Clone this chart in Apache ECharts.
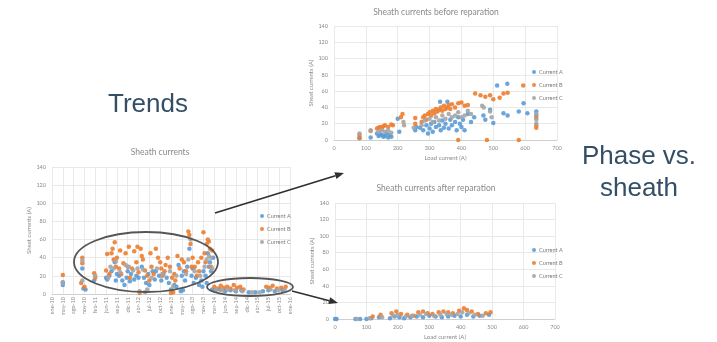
<!DOCTYPE html>
<html><head><meta charset="utf-8">
<style>html,body{margin:0;padding:0;background:#fff}#c{width:717px;height:342px}</style>
<script src="https://cdn.jsdelivr.net/npm/echarts@6/dist/echarts.min.js"></script>
</head><body><div id="c"></div>
<script>
// ---- data ----
const seriesNames = ['Current A', 'Current B', 'Current C'];
const trendLabels = ['ene-10','may-10','ago-10','nov-10','feb-11','jun-11','sep-11','dic-11','abr-12','jul-12','oct-12','ene-13','may-13','ago-13','nov-13','mar-14','jun-14','sep-14','dic-14','abr-15','jul-15','oct-15','ene-16'];
// x = position on the date axis, counted in tick-label steps from ene-10
const trendA = [[1.0,10],[1.0,13],[2.8,28],[2.9,6],[3.1,5],[3.9,15],[5.0,18],[5.1,16],[5.3,20],[5.5,25],[5.8,35],[5.9,15],[6.0,22],[6.2,20],[6.5,15],[6.7,10],[6.9,18],[7.0,25],[7.2,14],[7.3,22],[7.6,16],[7.8,20],[8.0,18],[8.3,30],[8.5,18],[8.7,12],[8.9,22],[9.0,10],[9.3,25],[9.5,16],[9.6,25],[9.9,20],[10.1,15],[10.3,22],[10.6,18],[10.8,12],[11.0,5],[11.3,10],[11.5,8],[11.7,32],[11.9,3],[12.0,20],[12.1,4],[12.2,25],[12.3,15],[12.5,30],[12.7,50],[12.9,20],[13.0,28],[13.1,12],[13.3,18],[13.6,10],[13.8,15],[13.9,8],[14.0,25],[14.2,20],[14.3,12],[14.4,45],[14.5,30],[14.6,35],[14.7,25],[14.8,5],[14.9,40],[15.1,4],[15.5,5],[16.0,3],[16.5,4],[17.0,3],[17.5,4],[18.2,2],[18.8,2],[19.5,3],[20.0,4],[20.6,3],[21.3,4]];
const trendB = [[1.0,21],[2.8,40],[2.8,34],[2.7,12],[3.0,8],[3.9,23],[4.0,18],[5.0,26],[5.1,44],[5.3,22],[5.5,45],[5.6,50],[5.8,57],[5.7,38],[5.9,30],[6.0,40],[6.2,28],[6.3,48],[6.4,22],[6.6,34],[6.8,45],[7.0,30],[7.1,52],[7.2,18],[7.4,28],[7.6,47],[7.8,35],[7.9,52],[8.0,24],[8.1,1],[8.2,50],[8.3,42],[8.4,38],[8.6,26],[8.8,20],[9.0,15],[9.1,45],[9.2,30],[9.4,22],[9.6,50],[9.8,40],[10.0,35],[10.1,28],[10.2,20],[10.4,25],[10.5,32],[10.7,40],[10.9,30],[11.0,1],[11.2,2],[11.1,18],[11.3,22],[11.4,15],[11.6,42],[11.8,28],[12.0,38],[12.2,35],[12.4,25],[12.6,69],[12.7,65],[12.8,55],[12.9,30],[13.0,40],[13.2,30],[13.4,20],[13.5,35],[13.6,25],[13.8,40],[14.0,68],[14.1,45],[14.2,35],[14.3,55],[14.4,60],[14.5,58],[14.6,50],[14.7,30],[14.8,48],[15.0,8],[15.3,6],[15.6,9],[15.9,7],[16.2,8],[16.5,6],[16.8,10],[17.1,7],[17.4,8],[17.7,5],[19.8,8],[20.1,7],[20.4,9],[20.8,6],[21.2,7],[21.6,8]];
const trendC = [[1.0,12],[2.8,15],[2.8,37],[4.0,20],[5.2,18],[5.4,30],[5.7,28],[5.9,36],[6.3,24],[6.8,32],[7.1,30],[7.5,26],[7.9,28],[8.1,3],[8.4,27],[8.6,2],[8.8,5],[9.2,18],[9.7,28],[10.2,22],[10.9,25],[11.2,8],[11.5,20],[12.4,22],[12.6,38],[12.8,60],[13.2,25],[13.7,20],[14.1,30],[14.3,38],[14.5,42],[14.7,40],[14.8,28],[15.2,5],[15.7,4],[16.3,5],[16.9,4],[17.6,3],[18.5,2],[19.2,2],[20.2,5],[20.9,4],[21.5,5]];

// [load current (A), sheath current (A)]
const beforeA = [[80,2],[115,3],[135,8],[140,5],[145,7],[150,6],[155,4],[160,5],[165,8],[170,3],[175,6],[180,4],[200,26],[205,10],[255,12],[258,16],[270,15],[280,12],[290,18],[295,8],[300,14],[305,20],[310,10],[315,22],[320,16],[330,18],[333,47],[335,12],[340,24],[345,15],[350,20],[356,47],[360,14],[365,25],[370,18],[380,22],[385,12],[390,28],[395,20],[400,16],[405,25],[410,12],[420,32],[430,22],[440,28],[469,30],[475,25],[490,37],[500,21],[512,67],[532,33],[544,69],[545,30],[580,35],[595,45],[607,33],[635,35],[635,30]];
const beforeB = [[80,3],[80,6],[115,11],[135,14],[140,15],[145,16],[150,14],[155,17],[160,18],[170,16],[180,19],[185,18],[210,28],[215,32],[255,27],[255,20],[275,22],[280,28],[285,30],[290,25],[295,32],[300,34],[305,30],[310,36],[315,33],[320,38],[325,35],[330,37],[335,40],[340,36],[345,42],[350,38],[355,40],[360,43],[365,38],[370,44],[380,40],[390,45],[390,0],[400,46],[410,42],[420,43],[443,57],[460,55],[475,53],[480,0],[490,55],[500,50],[520,52],[532,57],[545,58],[580,0],[594,67],[635,18],[635,15],[635,27]];
const beforeC = [[80,8],[115,12],[140,10],[150,12],[160,10],[170,12],[180,9],[218,22],[220,18],[250,15],[275,18],[285,24],[300,26],[310,22],[320,28],[330,24],[340,30],[350,26],[360,32],[370,28],[380,30],[390,34],[400,28],[410,30],[420,36],[430,32],[465,42],[470,40],[490,35],[495,28],[635,32],[635,25],[635,20]];

const afterA = [[0,0],[5,0],[65,0],[80,0],[100,0],[115,1],[140,2],[175,1],[190,3],[205,2],[220,1],[240,2],[260,3],[280,2],[300,4],[320,3],[340,2],[360,3],[380,4],[400,3],[420,5],[440,3],[460,4],[490,5]];
const afterB = [[120,3],[145,5],[180,7],[195,9],[210,6],[230,5],[250,4],[265,8],[280,9],[295,7],[310,6],[330,8],[345,9],[360,8],[375,7],[395,10],[410,13],[420,11],[435,9],[455,6],[480,7],[495,8]];
const afterC = [[70,0],[110,1],[150,2],[185,4],[200,5],[225,3],[245,4],[270,5],[290,6],[315,4],[335,5],[355,6],[370,5],[390,6],[405,8],[425,7],[445,5],[470,4]];

// ---- style ----
const colors = ['#5b9bd5', '#ed7d31', '#a5a5a5'];
const FONT = 'Lato, "Open Sans", sans-serif';
const gridLine = { show: true, lineStyle: { color: '#e3e3e3', width: 0.8 } };
const tickLbl = { fontSize: 5.5, color: '#8a8a8a', fontFamily: FONT };
const axName = { fontSize: 6, color: '#8a8a8a', fontFamily: FONT };

const chart = echarts.init(document.getElementById('c'), null, { renderer: 'canvas' });

function yAx(grid, gap) {
  return { type: 'value', gridIndex: grid, min: 0, max: 140, interval: 20,
    name: 'Sheat currents (A)', nameLocation: 'middle', nameGap: gap, nameTextStyle: axName,
    axisLine: { show: false }, axisTick: { show: false },
    axisLabel: Object.assign({ margin: 6 }, tickLbl), splitLine: gridLine };
}
function loadAx(grid) {
  return { type: 'value', gridIndex: grid, min: 0, max: 700, interval: 100,
    name: 'Load current (A)', nameLocation: 'middle', nameGap: 15, nameTextStyle: axName,
    axisLine: { show: true, lineStyle: { color: '#d0d0d0' } }, axisTick: { show: false },
    axisLabel: Object.assign({ margin: 5 }, tickLbl), splitLine: gridLine };
}
function sc(name, idx, grid, data) {
  return { type: 'scatter', name: name, xAxisIndex: grid, yAxisIndex: grid, data: data,
    symbolSize: 4.5, itemStyle: { color: colors[idx], opacity: 0.9 }, emphasis: { disabled: true } };
}
function legend(left, top) {
  return { orient: 'vertical', left: left, top: top, itemWidth: 4, itemHeight: 4, itemGap: 7,
    icon: 'circle', data: seriesNames, selectedMode: false,
    textStyle: { fontSize: 5.5, color: '#7a7a7a', fontFamily: FONT, padding: [0, 0, 0, -2] } };
}
function titleText(txt, x, y) {
  return { type: 'text', x: x, y: y, z: 50, style: { text: txt, fontSize: 8.5, fill: '#8a8a8a',
    fontFamily: FONT, align: 'center', verticalAlign: 'middle' } };
}
function bigText(txt, x, y) {
  return { type: 'text', x: x, y: y, z: 50, style: { text: txt, fontSize: 26, fill: '#344e66',
    fontFamily: '"Liberation Sans", Arial, sans-serif', align: 'center', verticalAlign: 'middle' } };
}
function arrow(x1, y1, x2, y2) {
  const a = Math.atan2(y2 - y1, x2 - x1), L = 9, W = 3.5;
  const bx = x2 - L * Math.cos(a), by = y2 - L * Math.sin(a);
  const px = -Math.sin(a) * W, py = Math.cos(a) * W;
  return [
    { type: 'line', z: 60, shape: { x1: x1, y1: y1, x2: bx, y2: by }, style: { stroke: '#2f2f2f', lineWidth: 1.6 } },
    { type: 'polygon', z: 60, shape: { points: [[x2, y2], [bx + px, by + py], [bx - px, by - py]] }, style: { fill: '#2f2f2f' } }
  ];
}

const option = {
  animation: false,
  backgroundColor: '#fff',
  grid: [
    { left: 52, top: 167, width: 238, height: 127 },
    { left: 334, top: 26, width: 223, height: 114 },
    { left: 335, top: 203, width: 220, height: 116 }
  ],
  xAxis: [
    { type: 'value', gridIndex: 0, min: 0, max: trendLabels.length - 1, interval: 1,
      axisLine: { show: true, lineStyle: { color: '#d0d0d0' } }, axisTick: { show: false },
      axisLabel: Object.assign({ rotate: 90, margin: 3, formatter: v => trendLabels[v] || '' }, tickLbl),
      splitLine: gridLine },
    loadAx(1), loadAx(2)
  ],
  yAxis: [yAx(0, 20), yAx(1, 17), yAx(2, 17)],
  legend: [legend(255, 208), legend(527, 64), legend(527, 242)],
  series: [
    sc('Current A', 0, 0, trendA), sc('Current B', 1, 0, trendB), sc('Current C', 2, 0, trendC),
    sc('Current A', 0, 1, beforeA), sc('Current B', 1, 1, beforeB), sc('Current C', 2, 1, beforeC),
    sc('Current A', 0, 2, afterA), sc('Current B', 1, 2, afterB), sc('Current C', 2, 2, afterC)
  ],
  graphic: [
    titleText('Sheath currents', 160, 152),
    titleText('Sheath currents before reparation', 436, 12),
    titleText('Sheath currents after reparation', 436, 188),
    bigText('Trends', 148, 105),
    bigText('Phase vs.', 639, 157),
    bigText('sheath', 639, 189),
    { type: 'ellipse', z: 55, shape: { cx: 146, cy: 262, rx: 72, ry: 30 },
      style: { fill: 'none', stroke: '#555', lineWidth: 1.8 } },
    { type: 'ellipse', z: 55, shape: { cx: 250, cy: 287, rx: 43, ry: 9 },
      style: { fill: 'none', stroke: '#555', lineWidth: 1.8 } }
  ].concat(arrow(215, 213, 344, 173), arrow(292, 291, 338, 303))
};
chart.setOption(option);
</script>
</body></html>
